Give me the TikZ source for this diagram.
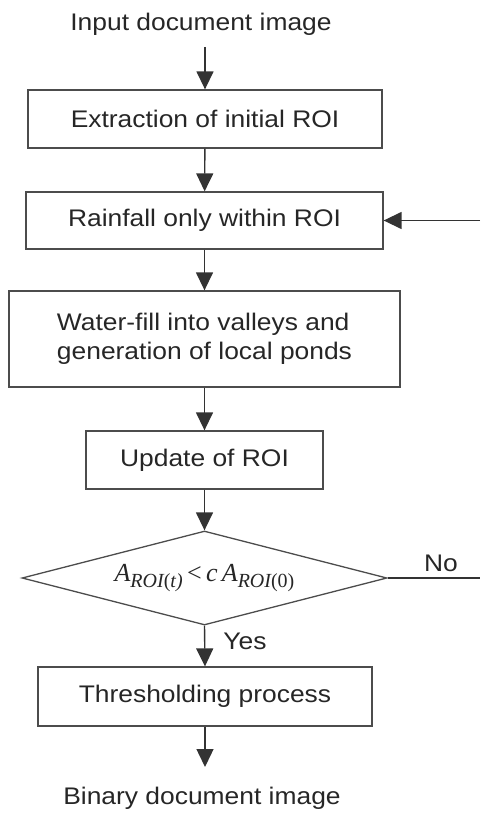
\documentclass[tikz,border=0pt]{standalone}
\usepackage{fontspec}
\setmainfont{Liberation Sans}[FakeStretch=1.1]
\newfontfamily\tms{Liberation Serif}
\usetikzlibrary{arrows.meta,shapes.geometric}
\tikzset{
  line/.style={draw=black!80, line width=1.4pt},
  flow/.style={line, -{Triangle[length=18pt,width=17pt]}},
  stepbox/.style={draw=black!70, line width=1.3pt, rectangle, inner sep=0pt,
    font=\fontsize{24}{29}\selectfont, text=black!85},
  decide/.style={draw=black!70, line width=1.3pt, diamond, aspect=3.88, inner sep=0pt,
    minimum width=365pt, minimum height=94pt, text=black!85},
  label/.style={inner sep=0pt, font=\fontsize{24}{29}\selectfont, text=black!85},
}
\newcommand\roisub[1]{\lower6pt\hbox{\fontsize{20}{20}\selectfont\itshape ROI\upshape(#1)}}
\begin{document}
\begin{tikzpicture}[x=1pt,y=-1pt]
\useasboundingbox (0,0) rectangle (480,813);
\node[label] (in) at (201,24) {Input document image};
\node[stepbox, minimum width=354pt, minimum height=58pt] (b1) at (205,119) {Extraction of initial ROI};
\node[stepbox, minimum width=357pt, minimum height=57pt] (b2) at (204.5,220.5) {Rainfall only within ROI};
\node[stepbox, minimum width=391pt, minimum height=96pt, align=left] (b3) at (204.5,339)
  {Water-fill into valleys and\\generation of local ponds};
\node[stepbox, minimum width=237pt, minimum height=58pt] (b4) at (204.5,460) {Update of ROI};
\node[decide] (d) at (204.5,578)
  {\raisebox{2pt}{\fontsize{26}{30}\tms\itshape A\roisub{\itshape t}\,{\upshape<}\,c\,A\roisub{0}}};
\node[stepbox, minimum width=334pt, minimum height=59pt] (b5) at (205,696.5) {Thresholding process};
\node[label] (out) at (202,798) {Binary document image};
\node[label] (yes) at (245,641) {Yes};
\node[label] (no) at (441,563) {No};
\coordinate (top) at (205,47);
\coordinate (end) at (205,767);
\coordinate (fb) at (480,220.5);
\coordinate (nr) at (480,578);

\draw[flow] (top) -- (b1.north);
\draw[flow] (b1) -- (b2);
\draw[flow] (b2) -- (b3);
\draw[flow] (b3) -- (b4);
\draw[flow] (b4) -- (d.north);
\draw[flow] (d.south) -- (b5.north);
\draw[flow] (b5.south) -- (end);
\draw[flow] (fb) -- (b2.east);
\draw[line] (d.east) -- (nr);
\end{tikzpicture}
\end{document}
